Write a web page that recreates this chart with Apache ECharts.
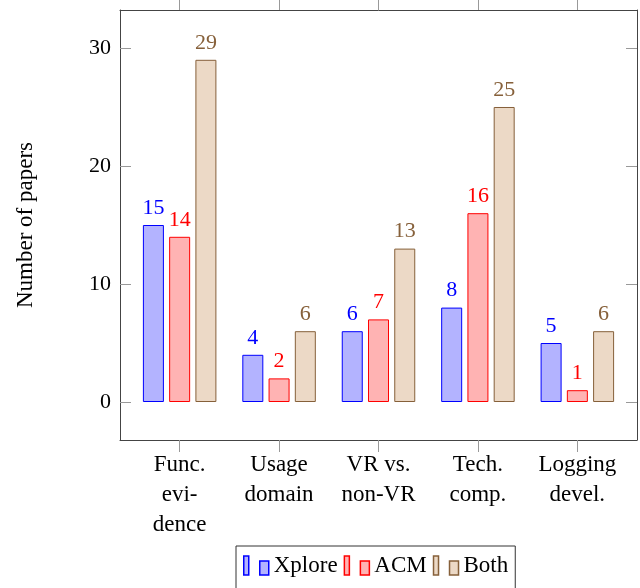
<!DOCTYPE html>
<html>
<head>
<meta charset="utf-8">
<script src="https://cdn.jsdelivr.net/npm/echarts@6/dist/echarts.min.js"></script>
<style>
  html, body { margin: 0; padding: 0; background: #fff; }
  #papers_chart { width: 640px; height: 588px; }
</style>
</head>
<body>
<div id="papers_chart"></div>
<script>
// papers per topic and source
var categories = ['Func.\nevi-\ndence', 'Usage\ndomain', 'VR vs.\nnon-VR', 'Tech.\ncomp.', 'Logging\ndevel.'];
var xplore = [15, 4, 6, 8, 5];
var acm = [14, 2, 7, 16, 1];
var both = [29, 6, 13, 25, 6];
var yTicks = [0, 10, 20, 30];
var xTicks = [0, 1, 2, 3, 4];

var dom = document.getElementById('papers_chart');
var myChart = echarts.init(dom);

var font = 'Liberation Serif';
var frame = '#444';
var tickGray = '#999';
var legendIcon = 'path://M0,0 h5 v19 h-5 Z M16,5 h9 v14 h-9 Z';

function toPoints(arr) {
    return arr.map(function (v, i) { return [i, v]; });
}

function barSeries(name, values, fill, stroke) {
    return {
        name: name,
        type: 'bar',
        xAxisIndex: 0,
        yAxisIndex: 0,
        barWidth: 21,
        barGap: '25%',
        data: toPoints(values),
        itemStyle: { color: fill, borderColor: stroke, borderWidth: 1 },
        label: {
            show: true,
            position: 'top',
            distance: 6,
            color: stroke,
            fontFamily: font,
            fontSize: 22
        }
    };
}

var option = {
    animation: false,
    grid: { left: 120, right: 3, top: 10, bottom: 148 },
    legend: {
        left: 236,
        top: 546,
        padding: [8, 7, 20, 7],
        itemGap: 6,
        itemWidth: 25,
        itemHeight: 19,
        icon: legendIcon,
        borderColor: '#333',
        borderWidth: 1,
        borderRadius: 0,
        itemStyle: { borderWidth: 1.5 },
        textStyle: { fontFamily: font, fontSize: 23, color: '#000' },
        data: ['Xplore', 'ACM', 'Both']
    },
    xAxis: [
        {
            type: 'value',
            min: -0.6,
            max: 4.6,
            position: 'bottom',
            splitLine: { show: false },
            axisLine: { onZero: false, lineStyle: { color: frame, width: 1 } },
            axisTick: { customValues: xTicks, length: 12, lineStyle: { color: tickGray } },
            axisLabel: {
                customValues: xTicks,
                margin: 10,
                fontFamily: font,
                fontSize: 23,
                lineHeight: 30,
                color: '#000',
                formatter: function (v) { return categories[Math.round(v)]; }
            }
        },
        {
            type: 'value',
            min: -0.6,
            max: 4.6,
            position: 'top',
            splitLine: { show: false },
            axisLine: { onZero: false, lineStyle: { color: frame, width: 1 } },
            axisTick: { customValues: xTicks, length: 10, lineStyle: { color: tickGray } },
            axisLabel: { show: false }
        }
    ],
    yAxis: [
        {
            type: 'value',
            min: -3.22,
            max: 33.22,
            position: 'left',
            name: 'Number of papers',
            nameLocation: 'middle',
            nameGap: 83,
            nameTextStyle: { fontFamily: font, fontSize: 23, color: '#000' },
            splitLine: { show: false },
            axisLine: { show: true, onZero: false, lineStyle: { color: frame, width: 1 } },
            axisTick: { inside: true, customValues: yTicks, length: 11, lineStyle: { color: tickGray } },
            axisLabel: {
                customValues: yTicks,
                margin: 9,
                fontFamily: font,
                fontSize: 22,
                color: '#000'
            }
        },
        {
            type: 'value',
            min: -3.22,
            max: 33.22,
            position: 'right',
            splitLine: { show: false },
            axisLine: { show: true, onZero: false, lineStyle: { color: frame, width: 1 } },
            axisTick: { inside: true, customValues: yTicks, length: 11, lineStyle: { color: tickGray } },
            axisLabel: { show: false }
        }
    ],
    series: [
        barSeries('Xplore', xplore, '#b3b3ff', '#0000ff'),
        barSeries('ACM', acm, '#ffb3b3', '#ff0000'),
        barSeries('Both', both, '#ecd9c6', '#86603a')
    ]
};

if (option && typeof option === 'object') {
    myChart.setOption(option);
}
</script>
</body>
</html>
